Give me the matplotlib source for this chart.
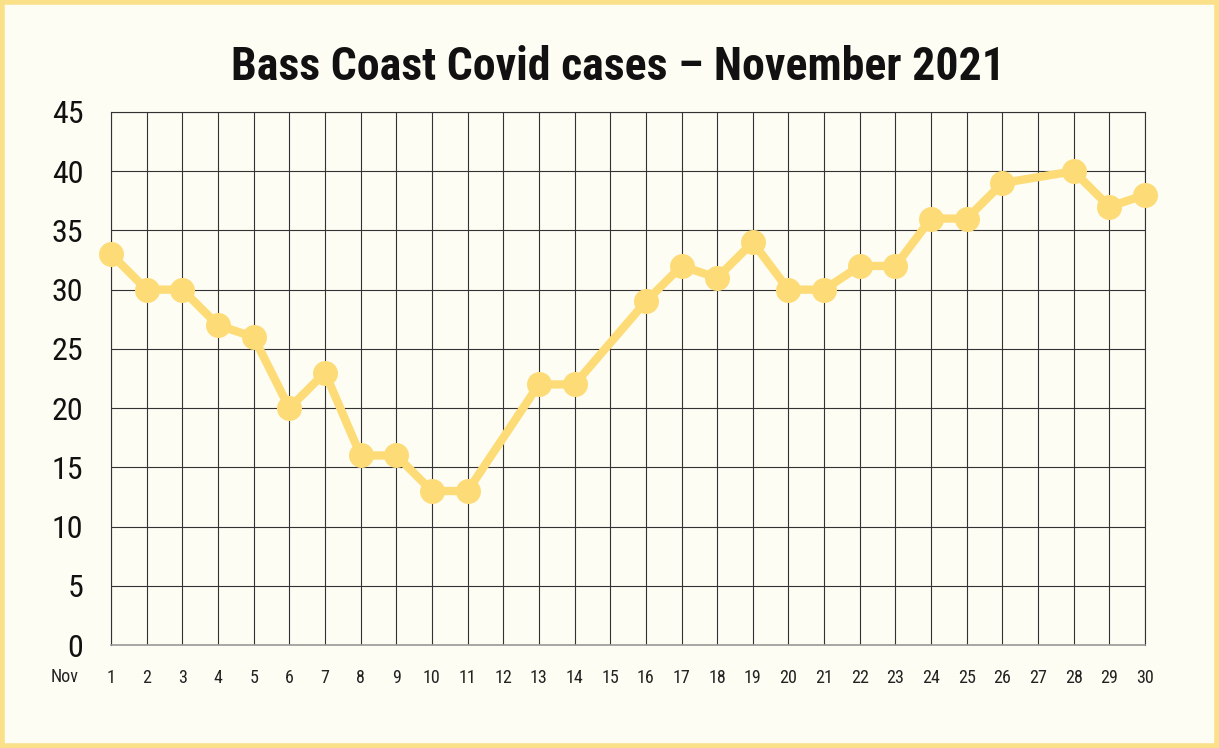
import matplotlib
matplotlib.use("Agg")
import matplotlib.pyplot as plt
from matplotlib.patches import Rectangle

# Daily cases, Bass Coast, November 2021 (days without a report are skipped)
days = [1, 2, 3, 4, 5, 6, 7, 8, 9, 10, 11, 13, 14, 16, 17, 18, 19, 20,
        21, 22, 23, 24, 25, 26, 28, 29, 30]
cases = [33, 30, 30, 27, 26, 20, 23, 16, 16, 13, 13, 22, 22, 29, 32, 31, 34, 30,
         30, 32, 32, 36, 36, 39, 40, 37, 38]
day_ticks = list(range(1, 31))
y_ticks = list(range(0, 46, 5))

BG = "#fefdf4"
YELLOW = "#fddc78"
FRAME = "#fbe08a"
GRID = "#333333"
FONT = ["Roboto Condensed", "Liberation Sans Narrow", "Roboto", "DejaVu Sans"]

fig = plt.figure(figsize=(12.19, 7.48), dpi=100, facecolor=BG)
ax = fig.add_axes([0.0911, 0.1377, 0.8482, 0.7126])
ax.set_facecolor(BG)

ax.plot(days, cases, color=YELLOW, linewidth=6, marker="o", markersize=18,
        markeredgewidth=0, solid_capstyle="round", clip_on=False, zorder=5)

ax.set_xlim(1, 30)
ax.set_ylim(0, 45)
ax.set_xticks(day_ticks)
ax.set_yticks(y_ticks)
ax.set_xticklabels([str(d) for d in day_ticks], fontsize=13, family=FONT,
                   color="#222222")
ax.set_yticklabels([str(v) for v in y_ticks], fontsize=23, family=FONT,
                   color="#111111")
ax.tick_params(axis="x", length=0, pad=17)
ax.tick_params(axis="y", length=0, pad=20)
ax.grid(True, color=GRID, linewidth=0.8)
ax.set_axisbelow(True)
for side in ["top", "right", "left"]:
    ax.spines[side].set_color(GRID)
    ax.spines[side].set_linewidth(0.8)
ax.spines["bottom"].set_color("#999999")
ax.spines["bottom"].set_linewidth(1.2)

ax.text(-0.3, -0.044, "Nov", transform=ax.get_xaxis_transform(), fontsize=13,
        family=FONT, color="#222222", ha="center", va="top", clip_on=False)

fig.text(0.507, 0.91, "Bass Coast Covid cases \u2013 November 2021",
         fontsize=33, fontweight="bold", family=FONT, ha="center",
         va="center", color="#111111")

fig.patches.append(Rectangle((0.002, 0.003), 0.996, 0.994,
                             transform=fig.transFigure, fill=False,
                             edgecolor=FRAME, linewidth=4))

fig.savefig("out.png", dpi=100, facecolor=BG)
